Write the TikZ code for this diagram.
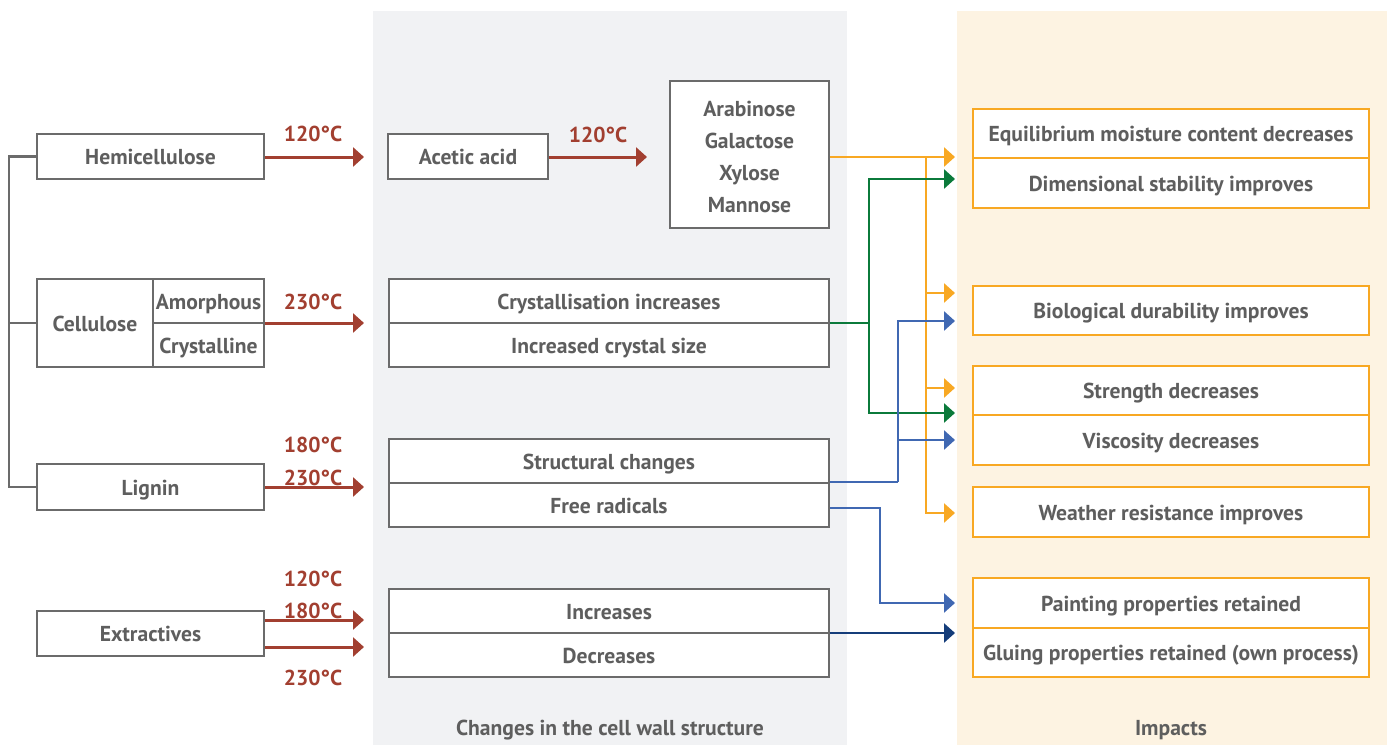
\documentclass[tikz,border=0pt]{standalone}
\usepackage{fontspec}
\setmainfont{PT Sans}
\usetikzlibrary{arrows.meta}
\definecolor{boxgray}{HTML}{6B6B6B}
\definecolor{txtgray}{HTML}{5E5E5E}
\definecolor{tred}{HTML}{A23F30}
\definecolor{torange}{HTML}{F8A823}
\definecolor{tgreen}{HTML}{0B7A3B}
\definecolor{tblue}{HTML}{4068B2}
\definecolor{tdblue}{HTML}{153D7A}
\definecolor{panelgray}{HTML}{F1F2F4}
\definecolor{panelbeige}{HTML}{FDF3E2}
\tikzset{
  txt/.style={font=\fontsize{21.6}{24}\selectfont\bfseries, text=txtgray},
  vc/.style={text height=16pt, text depth=0pt},
  sbox/.style={txt, draw=boxgray, line width=2.4pt, fill=white, inner sep=0pt, anchor=center},
  gbox/.style={sbox, vc},
  obox/.style={txt, vc, draw=torange, line width=2.4pt, fill=white, inner sep=0pt, minimum width=396pt, anchor=center},
  temp/.style={font=\fontsize{21.6}{24}\selectfont\bfseries, text=tred, inner sep=0pt, vc},
  tip/.style={-{Triangle[length=11pt,width=19pt]}},
  redarr/.style={tip, draw=tred, line width=3pt},
  conn/.style={tip, line width=2.7pt},
  bline/.style={draw=boxgray, line width=2.4pt},
}
\begin{document}
\begin{tikzpicture}[x=1pt,y=-1pt]
\useasboundingbox (0,0) rectangle (1387,745);
% panels
\fill[panelgray] (373,11) rectangle (847,745);
\fill[panelbeige] (957,11) rectangle (1387,745);
\node[txt, vc] (lblchg) at (610,727) {Changes in the cell wall structure};
\node[txt, vc] (lblimp) at (1171,727) {Impacts};

% left column
\node[gbox, minimum width=227pt, minimum height=45pt] (hemi) at (150.5,156.5) {Hemicellulose};
\node[gbox, minimum width=116pt, minimum height=88pt] (cel) at (95,323) {Cellulose};
\node[gbox, minimum width=111pt, minimum height=44pt] (amor) at (208.5,301) {Amorphous};
\node[gbox, minimum width=111pt, minimum height=44pt] (cry) at (208.5,345) {Crystalline};
\node[gbox, minimum width=227pt, minimum height=46pt] (lig) at (150.5,487) {Lignin};
\node[gbox, minimum width=227pt, minimum height=45pt] (ext) at (150.5,633.5) {Extractives};

\draw[bline] (hemi.west) -- ++(-27,0) |- (lig.west);
\draw[bline] (cel.west) -- ++(-27,0);

% middle column
\node[gbox, minimum width=160pt, minimum height=45pt] (acet) at (468,156.5) {Acetic acid};
\node[sbox, minimum width=159pt, minimum height=147pt, align=center, font=\fontsize{21.6}{32}\selectfont\bfseries] (sug) at (749.5,154.5) {\rule{0pt}{20pt}Arabinose\\Galactose\\Xylose\\Mannose};
\node[gbox, minimum width=440pt, minimum height=44pt] (cs1) at (609,301) {Crystallisation increases};
\node[gbox, minimum width=440pt, minimum height=44pt] (cs2) at (609,345) {Increased crystal size};
\node[gbox, minimum width=440pt, minimum height=44pt] (st1) at (609,461) {Structural changes};
\node[gbox, minimum width=440pt, minimum height=44pt] (st2) at (609,505) {Free radicals};
\node[gbox, minimum width=440pt, minimum height=44pt] (ex1) at (609,611) {Increases};
\node[gbox, minimum width=440pt, minimum height=44pt] (ex2) at (609,655) {Decreases};

% right column
\node[obox, minimum height=49pt] (i1a) at (1171,133.5) {Equilibrium moisture content decreases};
\node[obox, minimum height=50pt] (i1b) at (1171,183) {Dimensional stability improves};
\node[obox, minimum height=49pt] (i2) at (1171,310.5) {Biological durability improves};
\node[obox, minimum height=49pt] (i3a) at (1171,390.5) {Strength decreases};
\node[obox, minimum height=50pt] (i3b) at (1171,440) {Viscosity decreases};
\node[obox, minimum height=50pt] (i4) at (1171,512) {Weather resistance improves};
\node[obox, minimum height=50pt] (i5a) at (1171,603) {Painting properties retained};
\node[obox, minimum height=49pt] (i5b) at (1171,652.5) {Gluing properties retained (own process)};

% red arrows
\coordinate (rh) at (364,157);
\coordinate (rc) at (364,323);
\coordinate (rl) at (364,487);
\coordinate (re1) at (364,620);
\coordinate (re2) at (364,647);
\coordinate (ra) at (647,157);
\draw[redarr] (hemi.east |- rh) -- (rh);
\draw[redarr] (amor.east |- rc) -- (rc);
\draw[redarr] (lig.east |- rl) -- (rl);
\draw[redarr] (ext.east |- re1) -- (re1);
\draw[redarr] (ext.east |- re2) -- (re2);
\draw[redarr] (acet.east |- ra) -- (ra);
\node[temp] (t1) at (313,133) {120°C};
\node[temp] (t2) at (313,301) {230°C};
\node[temp] (t3) at (313,444) {180°C};
\node[temp] (t4) at (313,477) {230°C};
\node[temp] (t5) at (313,578) {120°C};
\node[temp] (t6) at (313,610) {180°C};
\node[temp] (t7) at (313,677) {230°C};
\node[temp] (t8) at (598,134) {120°C};

% orange connectors
\coordinate (oa) at (955,157);
\coordinate (ob) at (955,293);
\coordinate (oc) at (955,388);
\coordinate (od) at (955,513);
\coordinate (otrunk) at (926,157);
\draw[conn, draw=torange] (sug.east |- oa) -- (oa);
\draw[conn, draw=torange] (otrunk) |- (ob);
\draw[conn, draw=torange] (otrunk) |- (oc);
\draw[conn, draw=torange] (otrunk) |- (od);

% green connectors
\coordinate (ga) at (955,179);
\coordinate (gb) at (955,413);
\coordinate (gj) at (869,323);
\draw[line width=2.7pt, draw=tgreen] (cs1.east |- gj) -- (gj);
\draw[conn, draw=tgreen] (gj) |- (ga);
\draw[conn, draw=tgreen] (gj) |- (gb);

% blue connectors
\coordinate (ba) at (955,321);
\coordinate (bb) at (955,440);
\coordinate (bj) at (898,482);
\coordinate (bjm) at (898,440);
\coordinate (bk) at (880,508);
\coordinate (bc) at (955,603);
\draw[line width=2.7pt, draw=tblue] (st1.east |- bj) -- (bj);
\draw[conn, draw=tblue] (bj) |- (ba);
\draw[conn, draw=tblue] (bjm) -- (bb);
\draw[conn, draw=tblue] (st2.east |- bk) -- (bk) |- (bc);
\coordinate (dd) at (955,633);
\draw[conn, draw=tdblue] (ex1.east |- dd) -- (dd);
\end{tikzpicture}
\end{document}
